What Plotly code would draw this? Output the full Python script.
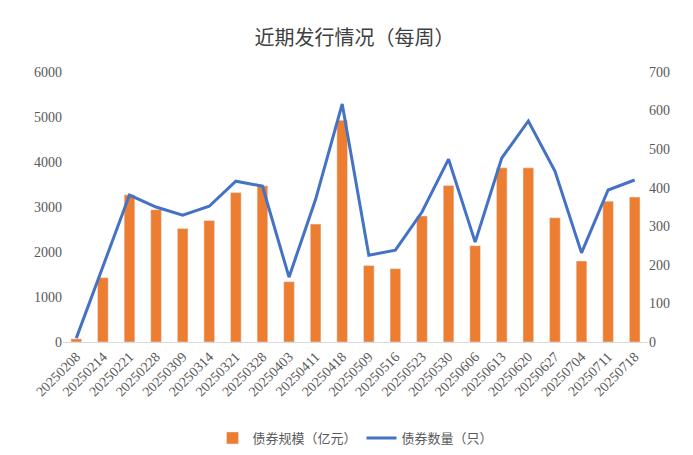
import plotly.graph_objects as go

dates = ["20250208", "20250214", "20250221", "20250228", "20250309", "20250314",
         "20250321", "20250328", "20250403", "20250411", "20250418", "20250509",
         "20250516", "20250523", "20250530", "20250606", "20250613", "20250620",
         "20250627", "20250704", "20250711", "20250718"]
scale = [70, 1430, 3270, 2940, 2520, 2700, 3320, 3470, 1340, 2620, 4930, 1700,
         1630, 2800, 3480, 2140, 3870, 3870, 2760, 1800, 3130, 3220]
count = [10, 197, 381, 350, 329, 352, 417, 404, 168, 370, 617, 225,
         238, 337, 474, 259, 477, 573, 443, 231, 394, 420]

fig = go.Figure()
fig.add_trace(go.Bar(x=dates, y=scale, name="债券规模（亿元）", marker_color="#ED7D31", width=0.4))
fig.add_trace(go.Scatter(x=dates, y=count, name="债券数量（只）", yaxis="y2", mode="lines",
                         line=dict(color="#4472C4", width=3)))

tickfont = dict(family="Liberation Serif", size=14, color="#595959")
fig.update_layout(
    width=693, height=455,
    paper_bgcolor="white", plot_bgcolor="white",
    title=dict(text="近期发行情况（每周）", x=0.5, y=0.95, xanchor="center",
               font=dict(family="Noto Sans CJK SC", size=20, color="#404040")),
    margin=dict(l=55, r=53, t=64, b=121, autoexpand=False),
    xaxis=dict(type="category", tickangle=-45, tickfont=tickfont, showline=True,
               linecolor="#d9d9d9", ticks="", automargin=False),
    yaxis=dict(range=[0, 6000], dtick=1000, tickfont=tickfont, showgrid=False,
               zeroline=False, automargin=False),
    yaxis2=dict(range=[0, 700], dtick=100, overlaying="y", side="right", tickfont=tickfont,
                showgrid=False, zeroline=False, automargin=False),
    legend=dict(orientation="h", x=0.5, xanchor="center", y=-0.3, yanchor="top",
                font=dict(family="Noto Sans CJK SC", size=13, color="#595959")),
    bargap=0.5,
)
fig.write_html("out.html")
